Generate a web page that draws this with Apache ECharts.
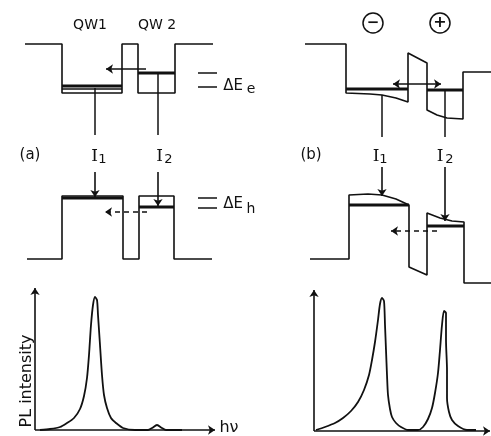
<!DOCTYPE html>
<html>
<head>
<meta charset="utf-8">
<script src="https://cdn.jsdelivr.net/npm/echarts@6/dist/echarts.min.js"></script>
<style>
html, body { margin: 0; padding: 0; background: #fff; }
#chart { width: 491px; height: 436px; }
</style>
</head>
<body>
<div id="chart"></div>
<script>
// Band diagrams, drawn in a 491 x 436 data frame (y grows downwards)

// (a) flat bands
const cbA = [[25,44],[62,44],[62,93],[122,93],[122,44],[138,44],[138,93],[175,93],[175,44],[213,44]];
const vbA = [[27,259],[62,259],[62,196],[123,196],[123,259],[139,259],[139,196],[174,196],[174,259],[212,259]];
const levelsA = [
    [[62,86],[122,86]], [[138,73],[175,73]],
    [[62,198],[123,198]], [[139,207],[174,207]]
];
const thinA = [[[62,89],[122,89]]];

// (b) tilted bands (field applied)
const cbB = [[305,44],[346,44],[346,93],[370,94],[382,95],[396,98],[408,102],[408,53],[427,63],
             [427,110],[437,115],[447,118],[463,119],[463,72],[491,72]];
const vbB = [[310,259],[349,259],[349,195],[368,194],[382,195],[396,199],[409,205],[409,267],[427,275],
             [427,213],[440,218],[452,221],[464,222],[464,283],[491,283]];
const levelsB = [
    [[346,89],[408,89]], [[427,90],[463,90]],
    [[349,205],[409,205]], [[427,226],[464,226]]
];

// Delta E markers
const deltaMarks = [
    [[198,73],[217,73]], [[198,87],[217,87]],
    [[198,198],[217,198]], [[198,208],[217,208]]
];

// plain vertical lines above the I labels
const plainLines = [
    [[95,88],[95,135]], [[158,73],[158,135]],
    [[382,95],[382,137]], [[445,90],[445,137]]
];
// arrows (from -> to)
const solidArrows = [
    [[95,172],[95,197]], [[158,172],[158,206]],
    [[382,167],[382,196]], [[445,167],[445,221]],
    [[146,69],[106,69]],
    [[35,430],[35,288]], [[35,430],[215,430]],
    [[314,431],[314,290]], [[314,431],[490,431]]
];
const doubleArrows = [[[393,84],[441,84]]];
const dashedArrows = [[[147,212],[105,212]], [[437,231],[391,231]]];

// PL spectra
const specA = [[40,430],[50,429],[60,427],[67,423],[74,418],[80,409],[84,396],[87,378],[89,355],[91,325],
               [93,305],[95,297],[97,300],[98,315],[100,345],[102,375],[104,395],[107,408],[111,418],[116,423],
               [123,428],[135,430],[148,430],[152,428],[157,425],[162,428],[166,430],[182,430]];
const specB = [[316,430],[325,427],[335,423],[343,418],[351,411],[358,402],[364,390],[369,375],[372,360],
               [375,342],[378,320],[380,304],[382,298],[384,301],[385,325],[386,350],[387,375],[388,395],
               [390,409],[392,417],[396,423],[401,427],[408,430],[418,430],[423,427],[428,419],[432,408],
               [435,393],[438,373],[440,350],[442,325],[444,311],[446,313],[446,340],[447,370],[447,398],
               [449,412],[452,420],[458,426],[467,430],[476,430]];

const INK = '#111';

function polySeries(points, width, smooth) {
    return {
        type: 'line',
        data: points,
        symbol: 'none',
        smooth: smooth || false,
        silent: true,
        lineStyle: { color: INK, width: width },
        z: 3
    };
}

function arrowSeries(list, symbols, dashed) {
    return {
        type: 'lines',
        coordinateSystem: 'cartesian2d',
        data: list.map(a => ({ coords: a })),
        symbol: symbols,
        symbolSize: 7,
        silent: true,
        lineStyle: { color: INK, width: 1.6, opacity: 1, type: dashed ? [5, 4] : 'solid' },
        z: 4
    };
}

const series = [];
[cbA, vbA, cbB, vbB].forEach(p => series.push(polySeries(p, 1.6)));
levelsA.concat(levelsB).forEach(p => series.push(polySeries(p, 2.8)));
thinA.concat(deltaMarks, plainLines).forEach(p => series.push(polySeries(p, 1.5)));
series.push(polySeries(specA, 1.8, 0.25));
series.push(polySeries(specB, 1.8, 0.25));
series.push(arrowSeries(solidArrows, ['none', 'arrow'], false));
series.push(arrowSeries(doubleArrows, ['arrow', 'arrow'], false));
series.push(arrowSeries(dashedArrows, ['none', 'arrow'], true));

const SANS = '"DejaVu Sans", sans-serif';
const SERIF = '"DejaVu Serif", serif';
function txt(x, y, text, size, family, rot) {
    return {
        type: 'text', x: x, y: y, rotation: rot || 0, silent: true, z: 10,
        style: { text: text, font: size + 'px ' + family, fill: INK, align: 'center', verticalAlign: 'middle' }
    };
}

const graphics = [
    txt(90, 25, 'QW1', 14, SANS),
    txt(157, 25, 'QW 2', 14, SANS),
    txt(233, 86, 'ΔE', 15, SANS),
    txt(251, 89, 'e', 14, SANS),
    txt(233, 204, 'ΔE', 15, SANS),
    txt(251, 209, 'h', 14, SANS),
    txt(30, 155, '(a)', 15, SANS),
    txt(311, 155, '(b)', 15, SANS),
    txt(94.5, 157, 'I', 17, SERIF),
    txt(102.5, 160, '1', 13, SANS),
    txt(159.5, 157, 'I', 17, SERIF),
    txt(168.5, 160, '2', 13, SANS),
    txt(376, 157, 'I', 17, SERIF),
    txt(383.5, 160, '1', 13, SANS),
    txt(440, 157, 'I', 17, SERIF),
    txt(449.5, 160, '2', 13, SANS),
    txt(229, 428, 'hν', 16, SANS),
    txt(27, 381, 'PL intensity', 16, SANS, Math.PI / 2),
    { type: 'circle', shape: { cx: 373, cy: 23, r: 10 }, silent: true,
      style: { fill: '#fff', stroke: INK, lineWidth: 1.5 } },
    { type: 'circle', shape: { cx: 440, cy: 23, r: 10 }, silent: true,
      style: { fill: '#fff', stroke: INK, lineWidth: 1.5 } },
    txt(373, 23, '−', 'bold 15', SANS),
    txt(440, 23, '+', 'bold 16', SANS)
];

const chart = echarts.init(document.getElementById('chart'));
chart.setOption({
    animation: false,
    backgroundColor: '#fff',
    grid: { left: 0, right: 0, top: 0, bottom: 0 },
    xAxis: { type: 'value', min: 0, max: 491, show: false },
    yAxis: { type: 'value', min: 0, max: 436, inverse: true, show: false },
    series: series,
    graphic: graphics
});
</script>
</body>
</html>
